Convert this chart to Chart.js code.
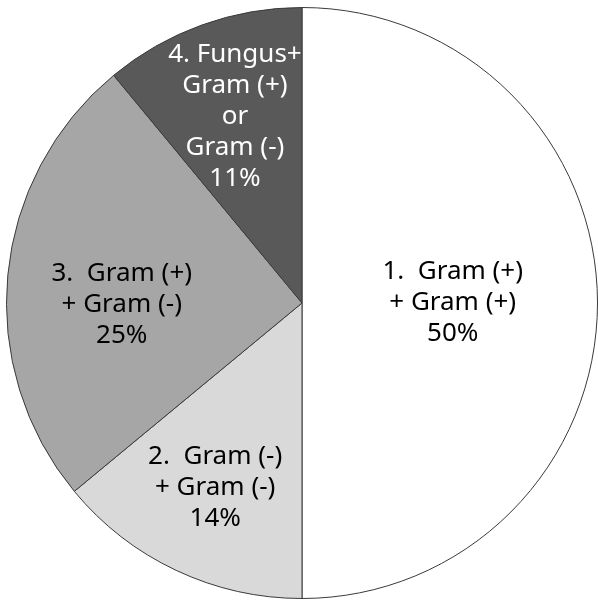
<!DOCTYPE html>
<html>
<head>
<meta charset="utf-8">
<script src="https://cdn.jsdelivr.net/npm/chart.js@4"></script>
<style>
  html, body { margin: 0; padding: 0; background: #fff; }
  #wrap { width: 598px; height: 600px; }
</style>
</head>
<body>
<div id="wrap"><canvas id="chartPie" width="598" height="600"></canvas></div>
<script>
// slice data, clockwise from 12 o'clock
const categories = [
  ['1.  Gram (+)', '+ Gram (+)'],
  ['2.  Gram (-)', '+ Gram (-)'],
  ['3.  Gram (+)', '+ Gram (-)'],
  ['4. Fungus+', 'Gram (+)', 'or', 'Gram (-)'],
];
const shares = [50, 14, 25, 11];

const fills = ['#ffffff', '#d9d9d9', '#a6a6a6', '#595959'];
const textColors = ['#000000', '#000000', '#000000', '#ffffff'];
// where each label block sits: fraction of radius, angle nudge in degrees
const labelRadius = [0.51, 0.69, 0.61, 0.67];
const labelNudge = [0, 0, -6, 0];

const FONT = '26px "Noto Sans", "Open Sans", sans-serif';
const LINE_H = 31;

const sliceLabels = {
  id: 'sliceLabels',
  afterDatasetsDraw(chart) {
    const ctx = chart.ctx;
    const meta = chart.getDatasetMeta(0);
    ctx.save();
    ctx.font = FONT;
    ctx.textAlign = 'center';
    ctx.textBaseline = 'middle';
    meta.data.forEach((arc, i) => {
      const mid = (arc.startAngle + arc.endAngle) / 2 + labelNudge[i] * Math.PI / 180;
      const r = arc.outerRadius * labelRadius[i];
      const cx = arc.x + Math.cos(mid) * r;
      const cy = arc.y + Math.sin(mid) * r;
      const lines = categories[i].concat([shares[i] + '%']);
      const top = cy - (lines.length - 1) * LINE_H / 2;
      ctx.fillStyle = textColors[i];
      lines.forEach((line, k) => ctx.fillText(line, cx, top + k * LINE_H));
    });
    ctx.restore();
  },
};

new Chart(document.getElementById('chartPie'), {
  type: 'pie',
  data: {
    labels: categories.map((c) => c.join(' ')),
    datasets: [{
      data: shares,
      backgroundColor: fills,
      borderColor: '#3a3a3a',
      borderWidth: 1,
      hoverOffset: 0,
      offset: 0,
    }],
  },
  options: {
    responsive: false,
    animation: false,
    layout: { padding: { left: 6, right: 0, top: 7, bottom: 1 } },
    plugins: { legend: { display: false }, tooltip: { enabled: false } },
  },
  plugins: [sliceLabels],
});
</script>
</body>
</html>
